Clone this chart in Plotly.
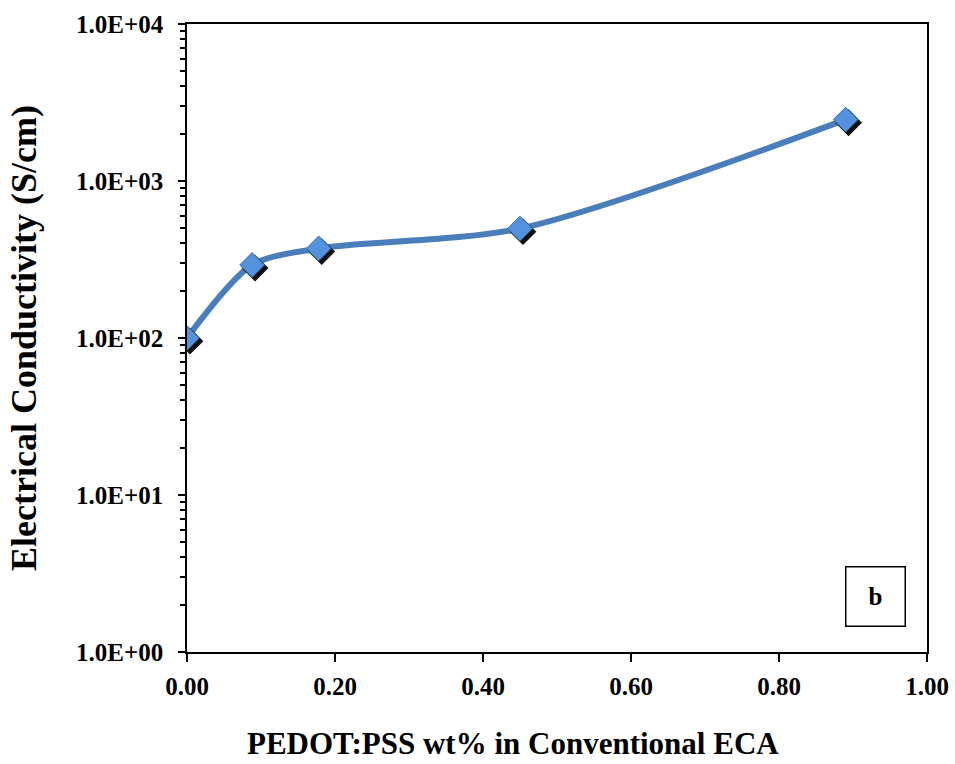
import plotly.graph_objects as go

# Data
pedot_wt = [0.0, 0.088, 0.178, 0.45, 0.89]
conductivity = [100, 292, 372, 498, 2460]
y_tick_vals = [1, 10, 100, 1000, 10000]
y_tick_text = ["1.0E+00", "1.0E+01", "1.0E+02", "1.0E+03", "1.0E+04"]
x_tick_vals = [0.0, 0.2, 0.4, 0.6, 0.8, 1.0]

FONT = "Liberation Serif"
LINE_BLUE = "#4A7EBB"
MARK_BLUE = "#5592DE"

fig = go.Figure()

# smoothed line
fig.add_trace(go.Scatter(
    x=pedot_wt, y=conductivity, mode="lines",
    line=dict(color=LINE_BLUE, width=6, shape="spline", smoothing=0.8),
    showlegend=False, hoverinfo="skip"))

# marker shadow (drawn on slightly shifted overlay axes)
fig.add_trace(go.Scatter(
    x=pedot_wt, y=conductivity, mode="markers", xaxis="x2", yaxis="y2",
    marker=dict(symbol="diamond", size=19, color="#111111",
                line=dict(color="#111111", width=1.5)),
    showlegend=False, hoverinfo="skip"))

# markers (on an unshifted overlay so they sit above the shadow)
fig.add_trace(go.Scatter(
    x=pedot_wt, y=conductivity, mode="markers", xaxis="x3", yaxis="y3",
    marker=dict(symbol="diamond", size=19, color=MARK_BLUE,
                line=dict(color="#3A6EA8", width=1)),
    showlegend=False))

tick_font = dict(family=FONT, size=25, color="black", weight="bold")

fig.update_layout(
    width=955, height=764,
    paper_bgcolor="white", plot_bgcolor="white",
    margin=dict(l=187, r=28, t=24, b=112),
    font=dict(family=FONT, color="black"),
    xaxis=dict(
        range=[0, 1], tickvals=x_tick_vals, tickformat=".2f",
        showline=True, linecolor="black", linewidth=1.5, mirror=True,
        ticks="outside", ticklen=8, tickwidth=1.5, tickcolor="black",
        showgrid=False, zeroline=False, automargin=False,
        ticklabelstandoff=3, ticklabeloverflow="allow",
        tickfont=tick_font,
    ),
    yaxis=dict(
        type="log", range=[0, 4], tickvals=y_tick_vals, ticktext=y_tick_text,
        showline=True, linecolor="black", linewidth=1.5, mirror=True,
        ticks="outside", ticklen=7, tickwidth=1.5, tickcolor="black",
        minor=dict(ticks="outside", ticklen=5, tickwidth=1.5, tickcolor="black",
                   dtick="D1", showgrid=False),
        showgrid=False, zeroline=False, ticklabelstandoff=10, automargin=False,
        ticklabeloverflow="allow",
        tickfont=tick_font,
        title=dict(text="Electrical Conductivity (S/cm)", standoff=28,
                   font=dict(family=FONT, size=36, color="black", weight="bold")),
    ),
    xaxis2=dict(overlaying="x", range=[-0.004, 0.996], visible=False),
    yaxis2=dict(overlaying="y", type="log", range=[0.02, 4.02], visible=False),
    xaxis3=dict(overlaying="x", range=[0, 1], visible=False),
    yaxis3=dict(overlaying="y", type="log", range=[0, 4], visible=False),
    annotations=[
        dict(text="<b>b</b>", xref="paper", yref="paper", x=0.930, y=0.088,
             xanchor="center", yanchor="middle",
             showarrow=False, font=dict(family=FONT, size=25, color="black"),
             bordercolor="black", borderwidth=1.5, bgcolor="white",
             width=56, height=56, align="center", valign="middle"),
        dict(text="<b>PEDOT:PSS wt% in Conventional ECA</b>",
             xref="paper", yref="paper", x=0.4405, y=-0.146,
             xanchor="center", yanchor="middle", showarrow=False,
             font=dict(family=FONT, size=31, color="black")),
    ],
)

fig.write_html("out.html", config={"displayModeBar": False},
               post_script="document.body.style.margin='0';")
